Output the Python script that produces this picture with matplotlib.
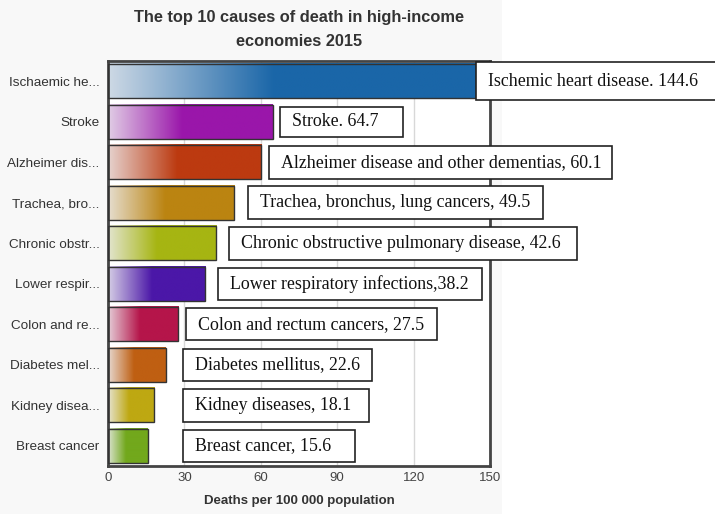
import matplotlib
matplotlib.use("Agg")
import matplotlib.pyplot as plt
import numpy as np
from matplotlib.colors import to_rgb
from matplotlib.patches import Rectangle

# ---- data ----
categories = ["Ischaemic he...", "Stroke", "Alzheimer dis...", "Trachea, bro...",
              "Chronic obstr...", "Lower respir...", "Colon and re...",
              "Diabetes mel...", "Kidney disea...", "Breast cancer"]
values = [144.6, 64.7, 60.1, 49.5, 42.6, 38.2, 27.5, 22.6, 18.1, 15.6]
labels = ["Ischemic heart disease. 144.6", "Stroke. 64.7",
          "Alzheimer disease and other dementias, 60.1",
          "Trachea, bronchus, lung cancers, 49.5",
          "Chronic obstructive pulmonary disease, 42.6",
          "Lower respiratory infections,38.2", "Colon and rectum cancers, 27.5",
          "Diabetes mellitus, 22.6", "Kidney diseases, 18.1", "Breast cancer, 15.6"]
colors = ["#1a66a8", "#9a16aa", "#bc3a10", "#bb8411", "#a6b512",
          "#4b17a8", "#b5154a", "#bf5f12", "#bea812", "#72a81c"]
xticks = [0, 30, 60, 90, 120, 150]
title = "The top 10 causes of death in high-income\neconomies 2015"
xlabel = "Deaths per 100 000 population"

# ---- layout ----
label_left = [144.5, 67.5, 63.2, 55.0, 47.5, 43.2, 30.6, 29.5, 29.5, 29.5]
label_rpad = [30, 25, 11, 13, 16, 13, 13, 12, 18, 24]
box_h = [38, 30, 33, 33, 33, 32, 32, 32, 33, 32]

W, H = 715, 514
fig = plt.figure(figsize=(W / 100, H / 100), dpi=100)
fig.patch.set_facecolor("white")
fig.patches.append(Rectangle((0, 0), 502 / W, 1, transform=fig.transFigure,
                             facecolor="#f8f8f8", edgecolor="none", zorder=-10))

ax = fig.add_axes([108 / W, (H - 466) / H, (490 - 108) / W, (466 - 61) / H])
ax.set_facecolor("white")

n = len(values)
bh = 0.84
for i, (v, c) in enumerate(zip(values, colors)):
    rgb = np.array(to_rgb(c))
    start = 0.15 * rgb + 0.85 * np.array([0.93, 0.93, 0.94])
    N = 200
    t = np.clip(np.linspace(0, 1, N) / 0.45, 0, 1)
    img = start[None, :] * (1 - t[:, None]) + rgb[None, :] * t[:, None]
    ax.imshow(img[None, :, :], extent=[0, v, i + bh / 2, i - bh / 2],
              aspect="auto", interpolation="bilinear", zorder=2)
    ax.add_patch(Rectangle((0, i - bh / 2), v, bh, facecolor="none",
                           edgecolor="#333333", linewidth=1.0, zorder=3))

ax.set_xlim(0, 150)
ax.set_ylim(n - 0.5, -0.5)
ax.set_xticks(xticks)
ax.set_xticklabels([str(x) for x in xticks], fontsize=9.5, color="#444444",
                   family="Liberation Sans")
ax.set_yticks(range(n))
ax.set_yticklabels(categories, fontsize=9.7, color="#333333", family="Liberation Sans")
ax.tick_params(length=0, pad=6)
ax.tick_params(axis="x", pad=4)
ax.grid(axis="x", color="#d8d8d8", linewidth=1, zorder=0)
ax.set_axisbelow(True)
for s in ax.spines.values():
    s.set_color("#444444")
    s.set_linewidth(2)
ax.set_xlabel(xlabel, fontsize=9.5, fontweight="bold", color="#333333",
              family="Liberation Sans", labelpad=8)

fig.text(299 / W, 1 - 29.5 / H, title, ha="center", va="center", fontsize=11.8,
         fontweight="bold", color="#333333", family="Liberation Sans",
         linespacing=1.7)

# annotation boxes
texts = []
for i, (lab, lx) in enumerate(zip(labels, label_left)):
    t = ax.text(lx, i, lab, fontsize=12.9, family="Liberation Serif", va="center",
                ha="left", zorder=12, clip_on=False, color="#111111")
    texts.append(t)

fig.canvas.draw()
r = fig.canvas.get_renderer()
inv = fig.transFigure.inverted()
for i, t in enumerate(texts):
    bb = t.get_window_extent(r)
    x0d, yc = ax.transData.transform((label_left[i], i))
    t.set_x(ax.transData.inverted().transform((x0d + 12, yc))[0])
    w = bb.width + 12 + label_rpad[i]
    h = box_h[i]
    (fx0, fy0) = inv.transform((x0d, yc - h / 2))
    (fx1, fy1) = inv.transform((x0d + w, yc + h / 2))
    ax.add_patch(Rectangle((fx0, fy0), fx1 - fx0, fy1 - fy0,
                           transform=fig.transFigure, facecolor="white",
                           edgecolor="#222222", linewidth=1.2, zorder=10,
                           clip_on=False))

fig.savefig("out.png", dpi=100)
